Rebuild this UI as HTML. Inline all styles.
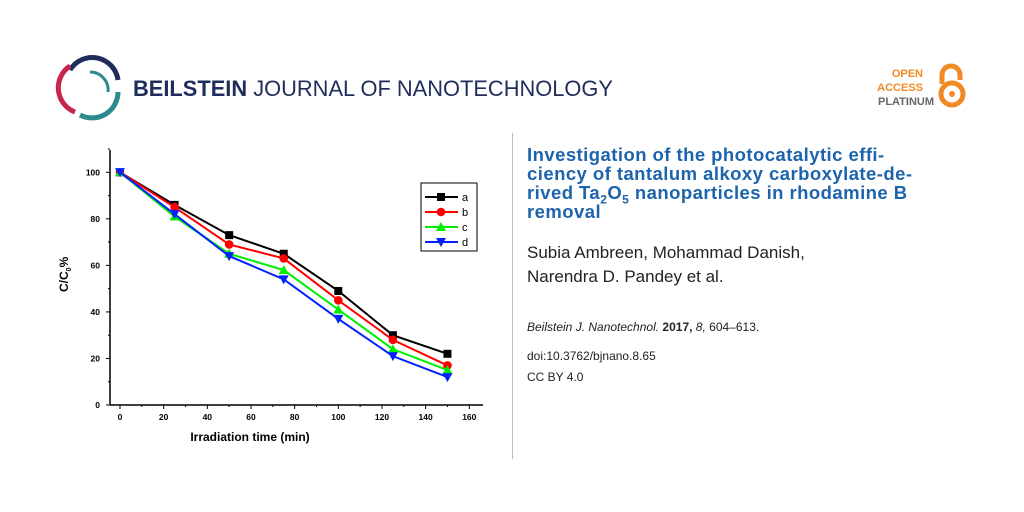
<!DOCTYPE html>
<html><head><meta charset="utf-8"><style>
body{margin:0;width:1024px;height:512px;background:#fff;position:relative;overflow:hidden;font-family:"Liberation Sans",sans-serif}
.abs{position:absolute}
</style></head><body>
<svg class="abs" style="left:0;top:0" width="1024" height="512">
 <g fill="none" stroke-width="5">
  <path d="M70 70 A26 26 0 0 1 118 80" stroke="#1f2d5c"/>
  <path d="M75 112 A26 26 0 0 1 70 66" stroke="#c8254d"/>
  <path d="M118 92 A26 26 0 0 1 80 115" stroke="#2a8a8c"/>
  <path d="M90 72 A18 18 0 0 1 108 92" stroke="#2a8a8c" stroke-width="3"/>
 </g>
 <text x="133" y="96" font-size="22" fill="#1f2d5c" textLength="480" lengthAdjust="spacingAndGlyphs" font-family="Liberation Sans, sans-serif"><tspan font-weight="bold">BEILSTEIN</tspan> JOURNAL OF NANOTECHNOLOGY</text>
 <text x="923" y="77" font-size="11" font-weight="bold" fill="#f08a24" text-anchor="end">OPEN</text>
 <text x="923" y="91" font-size="11" font-weight="bold" fill="#f08a24" text-anchor="end">ACCESS</text>
 <text x="934" y="105" font-size="11" font-weight="bold" fill="#666" text-anchor="end">PLATINUM</text>
 <g fill="none" stroke="#f08a24" stroke-width="5">
  <path d="M942 84 V75 A9 9 0 0 1 960 75 V80"/>
  <circle cx="952" cy="94" r="11"/>
  <circle cx="952" cy="94" r="3" fill="#f08a24" stroke="none"/>
 </g>
 <line x1="512.5" y1="133" x2="512.5" y2="459" stroke="#bbb"/>
 <g id="chart" font-family="Liberation Sans, sans-serif" font-weight="bold"></g>
</svg>
<div class="abs" style="left:527px;top:145px;width:460px;font-size:18.5px;line-height:19px;font-weight:bold;color:#1d64ad;letter-spacing:0.45px">Investigation of the photocatalytic effi-<br>ciency of tantalum alkoxy carboxylate-de-<br>rived Ta<sub style="font-size:12px;line-height:0">2</sub>O<sub style="font-size:12px;line-height:0">5</sub> nanoparticles in rhodamine B<br>removal</div>
<div class="abs" style="left:527px;top:241px;font-size:17px;line-height:24px;color:#222">Subia Ambreen, Mohammad Danish,<br>Narendra D. Pandey et al.</div>
<div class="abs" style="left:527px;top:320px;font-size:12px;color:#222"><i>Beilstein J. Nanotechnol.</i> <b>2017,</b> <i>8,</i> 604–613.</div>
<div class="abs" style="left:527px;top:349px;font-size:12px;color:#222">doi:10.3762/bjnano.8.65</div>
<div class="abs" style="left:527px;top:370px;font-size:12px;color:#222">CC BY 4.0</div>
<script>
const xs=[0,25,50,75,100,125,150];
const seriesA=[100,86,73,65,49,30,22];
const seriesB=[100,85,69,63,45,28,17];
const seriesC=[100,81,65,58,41,24,15];
const seriesD=[100,82,64,54,37,21,12];
const xTicks=[0,20,40,60,80,100,120,140,160];
const yTicks=[0,20,40,60,80,100];
const names=['a','b','c','d'];
const NS='http://www.w3.org/2000/svg';
const g=document.getElementById('chart');
const X=v=>120+v*349.3/160, Y=v=>405-v*2.327;
function el(t,a,p){const e=document.createElementNS(NS,t);for(const k in a)e.setAttribute(k,a[k]);(p||g).appendChild(e);return e;}
let e;
e=el('line',{x1:110,y1:150,x2:110,y2:405,stroke:'#000','stroke-width':1.5});

e=el('line',{x1:110,y1:405,x2:483,y2:405,stroke:'#000','stroke-width':1.5});

for(let v=0;v<=110;v+=10){const big=v%20==0;el('line',{x1:110,y1:Y(v),x2:big?106:108,y2:Y(v),stroke:'#000'});}
yTicks.forEach(v=>{e=el('text',{x:100,y:Y(v)+3,'font-size':8.5,'text-anchor':'end'});e.textContent=v;
});
for(let v=0;v<=165;v+=10){const big=v%20==0;el('line',{x1:X(v),y1:405,x2:X(v),y2:big?409:407,stroke:'#000'});}
xTicks.forEach(v=>{e=el('text',{x:X(v),y:420,'font-size':8.5,'text-anchor':'middle'});e.textContent=v;
});
e=el('text',{x:250,y:441,'font-size':12,'text-anchor':'middle'});e.textContent='Irradiation time (min)';

e=el('text',{x:0,y:0,'font-size':12,transform:'translate(68,292) rotate(-90)'});e.innerHTML='C/C<tspan font-size="7" dy="3">0</tspan><tspan dy="-3">%</tspan>';

const cols=['#000','#ff0000','#00ee00','#0022ff'];
function marker(i,x,y,p){
 if(i==0)return el('rect',{x:x-4,y:y-4,width:8,height:8,fill:cols[i]},p);
 if(i==1)return el('circle',{cx:x,cy:y,r:4.3,fill:cols[i]},p);
 if(i==2)return el('path',{d:`M${x} ${y-5}L${x+5} ${y+4}L${x-5} ${y+4}Z`,fill:cols[i]},p);
 return el('path',{d:`M${x} ${y+5}L${x+5} ${y-4}L${x-5} ${y-4}Z`,fill:cols[i]},p);
}
[seriesA,seriesB,seriesC,seriesD].forEach((s,i)=>{
 const sg=el('g',{});
 
 el('polyline',{points:s.map((v,j)=>X(xs[j])+','+Y(v)).join(' '),fill:'none',stroke:cols[i],'stroke-width':2},sg);
 s.forEach((v,j)=>{const m=marker(i,X(xs[j]),Y(v),sg);
  });
});
const lg=el('g',{});

el('rect',{x:421,y:183,width:56,height:68,fill:'#fff',stroke:'#000','stroke-width':1},lg);
names.forEach((n,i)=>{const y=197+i*15;
 const eg=el('g',{},lg);
 
 el('line',{x1:425,y1:y,x2:458,y2:y,stroke:cols[i],'stroke-width':2},eg);
 marker(i,441,y,eg);
 const t=el('text',{x:462,y:y+4,'font-size':11,'font-weight':'normal'},eg);t.textContent=n;});
</script>
</body></html>
